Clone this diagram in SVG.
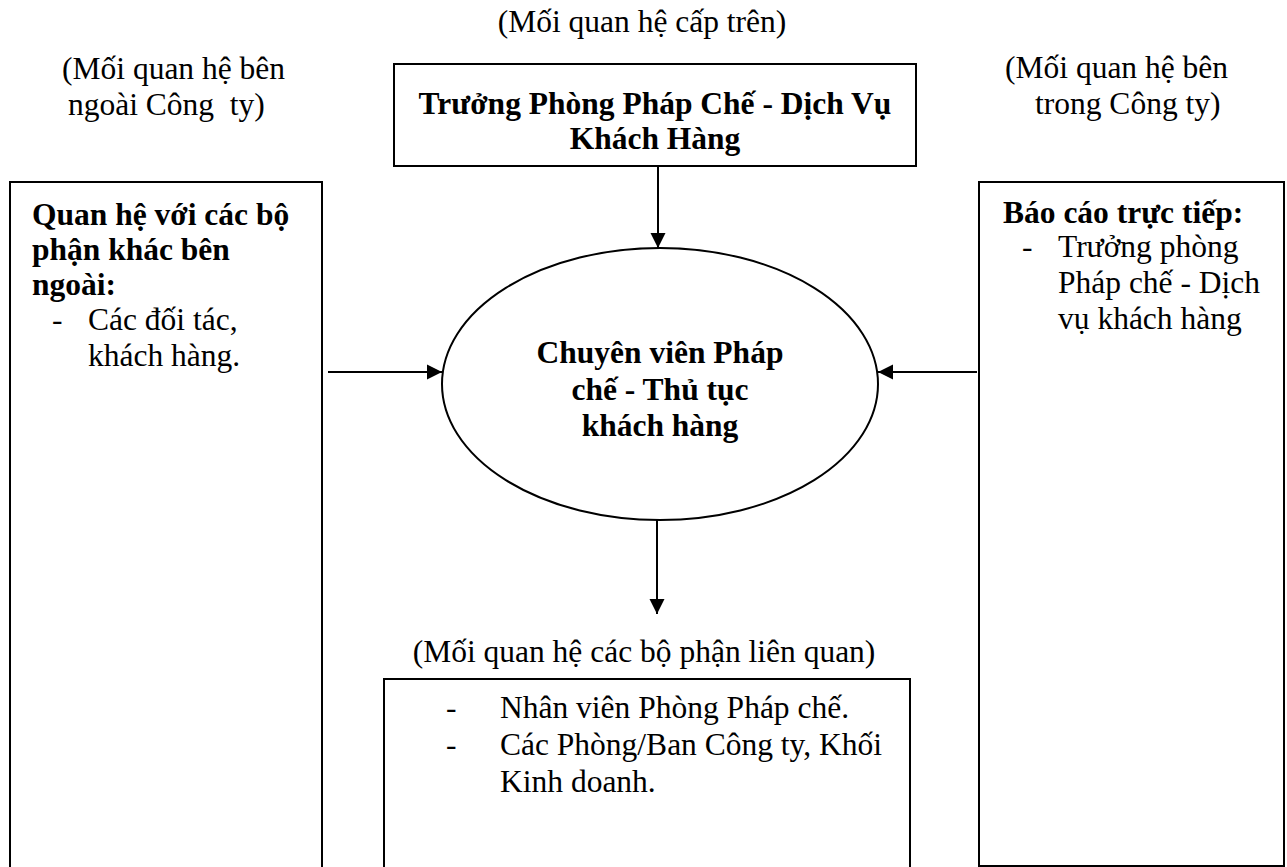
<svg xmlns="http://www.w3.org/2000/svg" width="1287" height="867" viewBox="0 0 1287 867">
<style>
text{font-family:"Liberation Serif","Times New Roman",serif;font-size:31.5px;fill:#000}
.b{font-weight:bold}
.m{text-anchor:middle}
.box{fill:#fff;stroke:#000;stroke-width:2}
.con{stroke:#000;stroke-width:2;fill:none;marker-end:url(#ah)}
</style>
<defs>
<marker id="ah" markerUnits="userSpaceOnUse" markerWidth="16" markerHeight="16" viewBox="0 0 16 16" refX="15" refY="8" orient="auto">
<path d="M0,0.5 L15,8 L0,15.5 z" fill="#000"/>
</marker>
</defs>
<rect width="1287" height="867" fill="#fff"/>
<g id="label-top"><text class="m" x="642" y="32">(Mối quan hệ cấp trên)</text></g>
<g id="label-left"><text x="62" y="79">(Mối quan hệ bên</text><text x="68" y="115" xml:space="preserve">ngoài Công  ty)</text></g>
<g id="label-right"><text x="1005" y="78">(Mối quan hệ bên</text><text x="1035" y="114">trong Công ty)</text></g>
<g id="label-bottom"><text class="m" x="644" y="662">(Mối quan hệ các bộ phận liên quan)</text></g>
<g id="node-top"><rect class="box" x="394" y="64" width="522" height="102"/>
<text class="b m" x="655" y="114">Trưởng Phòng Pháp Chế - Dịch Vụ</text>
<text class="b m" x="655" y="149">Khách Hàng</text></g>
<g id="node-left"><rect class="box" x="10" y="182" width="312" height="700"/>
<text class="b" x="32" y="225">Quan hệ với các bộ</text>
<text class="b" x="32" y="260">phận khác bên</text>
<text class="b" x="32" y="295">ngoài:</text>
<text x="52" y="330">-</text><text x="88" y="330">Các đối tác,</text>
<text x="88" y="366">khách hàng.</text></g>
<g id="node-right"><rect class="box" x="979" y="182" width="305" height="684"/>
<text class="b" x="1003" y="223">Báo cáo trực tiếp:</text>
<text x="1022" y="257">-</text><text x="1058" y="257">Trưởng phòng</text>
<text x="1058" y="293">Pháp chế - Dịch</text>
<text x="1058" y="329">vụ khách hàng</text></g>
<g id="node-center"><ellipse class="box" cx="660" cy="384" rx="218" ry="136"/>
<text class="b m" x="660" y="363">Chuyên viên Pháp</text>
<text class="b m" x="660" y="400">chế - Thủ tục</text>
<text class="b m" x="660" y="436">khách hàng</text></g>
<g id="node-bottom"><rect class="box" x="384" y="679" width="526" height="210"/>
<text x="446" y="718">-</text><text x="500" y="718">Nhân viên Phòng Pháp chế.</text>
<text x="446" y="755">-</text><text x="500" y="755">Các Phòng/Ban Công ty, Khối</text>
<text x="500" y="792">Kinh doanh.</text></g>
<g id="connectors">
<line class="con" x1="658" y1="166" x2="658" y2="248"/>
<line class="con" x1="328" y1="372" x2="442" y2="372"/>
<line class="con" x1="977" y1="372" x2="878" y2="372"/>
<line class="con" x1="657" y1="520" x2="657" y2="614"/>
</g>
</svg>
